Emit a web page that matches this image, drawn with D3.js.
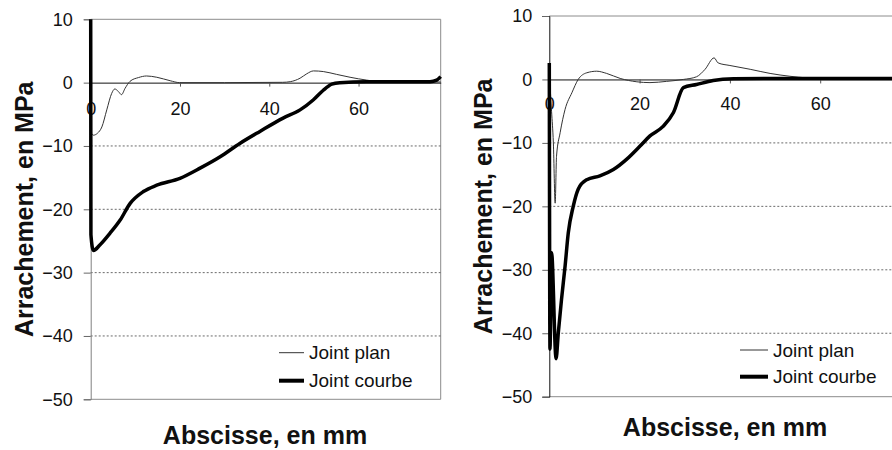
<!DOCTYPE html>
<html>
<head>
<meta charset="utf-8">
<script src="https://cdn.jsdelivr.net/npm/d3@7"></script>
<style>
  body { margin: 0; background: #fff; }
  svg { display: block; font-family: "Liberation Sans", Arial, sans-serif; }
</style>
</head>
<body>
<svg id="chart" width="892" height="450"></svg>
<script>
// Values: [abscisse mm, arrachement MPa]
const gauchePlan = [[0, -7.8], [0.6, -8.3], [1.5, -8.0], [2.5, -7.0], [3.6, -4.3], [4.7, -1.7], [5.4, -1.0],
  [6.2, -1.4], [6.9, -1.9], [7.7, -0.9], [8.8, 0.2], [10.7, 0.8], [12.5, 1.05], [14.8, 0.85], [17.8, 0.3],
  [19.9, 0], [30, 0], [43, 0.05], [44.7, 0.15], [46.9, 0.7], [48.4, 1.4], [49.9, 1.85], [52.1, 1.75],
  [55.1, 1.3], [58.1, 0.85], [61.8, 0.4], [64.8, 0.15], [70, 0.1], [78.4, 0.1]];
const gaucheCourbe = [[0, 10], [0.05, -24], [0.6, -26.5], [2.1, -25.6], [4.3, -23.8], [6.6, -21.7], [8.8, -19.1],
  [11.8, -17.2], [14.8, -16.2], [20, -15.1], [24.5, -13.5], [29, -11.7], [33.4, -9.6], [37.9, -7.7],
  [43.1, -5.6], [46.9, -4.3], [49.9, -2.7], [52.1, -1.2], [54, -0.25], [55.8, 0], [61.8, 0.15],
  [69.3, 0.15], [76, 0.15], [77.5, 0.4], [78.4, 0.95]];
const droitePlan = [[0, 1.0], [0.5, -5], [0.9, -10], [1.3, -19.5], [1.6, -12.1], [2.4, -8.4], [3.5, -4.7],
  [5.0, -2.1], [6.4, 0], [8.3, 1.05], [10.5, 1.3], [12.7, 0.95], [15.7, 0.16], [19.4, -0.37], [22.3, -0.5],
  [26, -0.3], [29.7, 0], [32.6, 0.42], [34.5, 1.6], [36.5, 3.4], [37.4, 2.6], [40, 2.2], [44.5, 1.6],
  [48.9, 0.95], [53.3, 0.5], [57, 0.25], [62, 0.1], [78, 0.1]];
const droiteCourbe = [[0, 2.6], [0.15, -42.5], [0.5, -27.3], [1.5, -44], [2.0, -39.9], [2.7, -34.7],
  [3.5, -29.4], [4.2, -24.2], [5.3, -20.0], [6.4, -17.3], [8.3, -15.8], [11.2, -15.2], [14.2, -14.2],
  [17.1, -12.6], [20.1, -10.5], [22.3, -8.9], [25.2, -7.4], [27.5, -5.2], [29.7, -1.3], [32.6, -0.8],
  [36.3, -0.16], [40.8, 0.1], [50, 0.15], [78, 0.15]];

const xTicks = [0, 20, 40, 60];
const yTicks = [10, 0, -10, -20, -30, -40, -50];
const gridValues = [-10, -20, -30, -40];
const legendLabels = ["Joint plan", "Joint courbe"];
const yTitle = "Arrachement, en MPa";
const xTitle = "Abscisse, en mm";

const svg = d3.select("#chart");

function drawChart(cfg) {
  const x = d3.scaleLinear().domain([0, cfg.xMax]).range([cfg.left, cfg.right]);
  const y = d3.scaleLinear().domain([-50, 10]).range([cfg.bottom, cfg.top]);
  const g = svg.append("g");

  // plot area border (top, right, bottom)
  g.append("path")
    .attr("d", `M${cfg.left},${y(10)}H${cfg.right}V${y(-50)}H${cfg.left}`)
    .attr("fill", "none").attr("stroke", "#8c8c8c").attr("stroke-width", 1);

  // dotted gridlines
  g.selectAll(".grid").data(gridValues).enter().append("line")
    .attr("x1", cfg.left).attr("x2", cfg.right)
    .attr("y1", d => y(d)).attr("y2", d => y(d))
    .attr("stroke", "#6a6a6a").attr("stroke-width", 1).attr("stroke-dasharray", "2,2");

  // y axis
  const yAxis = d3.axisLeft(y).tickValues(yTicks).tickSize(7).tickPadding(cfg.yPad);
  const ya = g.append("g").attr("transform", `translate(${cfg.left},0)`).call(yAxis);
  ya.select(".domain").attr("stroke", cfg.axisColor);
  ya.selectAll(".tick line").attr("stroke", "#666");
  ya.selectAll("text").attr("font-size", 18).attr("fill", "#111")
    .attr("font-family", "Liberation Sans, Arial, sans-serif");

  // x axis on the zero line
  const xAxis = d3.axisBottom(x).tickValues(xTicks).tickSize(4).tickPadding(cfg.xPad).tickSizeOuter(0);
  const xa = g.append("g").attr("transform", `translate(0,${y(0)})`).call(xAxis);
  xa.select(".domain").attr("stroke", "#111");
  xa.selectAll(".tick line").attr("stroke", "#555");
  xa.selectAll("text").attr("font-size", 18).attr("fill", "#111")
    .attr("font-family", "Liberation Sans, Arial, sans-serif");

  const line = d3.line().x(d => x(d[0])).y(d => y(d[1])).curve(d3.curveMonotoneX);

  g.append("path").datum(cfg.plan).attr("d", line)
    .attr("fill", "none").attr("stroke", "#333").attr("stroke-width", 1);
  g.append("path").datum(cfg.courbe).attr("d", line)
    .attr("fill", "none").attr("stroke", "#000").attr("stroke-width", 3.5)
    .attr("stroke-linejoin", "round");

  // legend
  const lg = g.append("g");
  legendLabels.forEach((lab, i) => {
    const ly = cfg.legY + i * cfg.legGap;
    lg.append("line").attr("x1", cfg.legX).attr("x2", cfg.legX + cfg.legLen)
      .attr("y1", ly).attr("y2", ly)
      .attr("stroke", i === 0 ? "#333" : "#000").attr("stroke-width", i === 0 ? 1 : 4);
    lg.append("text").attr("x", cfg.legX + cfg.legLen + 5).attr("y", ly).attr("dy", "0.35em")
      .attr("font-size", 19).attr("fill", "#111").text(lab);
  });

  // axis titles
  g.append("text")
    .attr("transform", `translate(${cfg.yTitleX},${(cfg.top + cfg.bottom) / 2}) rotate(-90)`)
    .attr("text-anchor", "middle").attr("font-size", 25).attr("font-weight", "bold")
    .attr("fill", "#111").text(yTitle);
  g.append("text")
    .attr("x", cfg.xTitleX).attr("y", cfg.xTitleY)
    .attr("text-anchor", "middle").attr("font-size", 25).attr("font-weight", "bold")
    .attr("fill", "#111").text(xTitle);
}

drawChart({
  left: 90.7, right: 440.7, top: 19.3, bottom: 399.3, xMax: 78.4,
  yPad: 11, xPad: 16, axisColor: "#808080",
  plan: gauchePlan, courbe: gaucheCourbe,
  legX: 279, legLen: 25, legY: 352.7, legGap: 28,
  yTitleX: 33, xTitleX: 265, xTitleY: 444
});

drawChart({
  left: 549.3, right: 549.3 + 78 * 4.515, top: 16, bottom: 396.7, xMax: 78,
  yPad: 10, xPad: 14, axisColor: "#111",
  plan: droitePlan, courbe: droiteCourbe,
  legX: 740, legLen: 28, legY: 350, legGap: 26.7,
  yTitleX: 492, xTitleX: 725, xTitleY: 436
});
</script>
</body>
</html>
